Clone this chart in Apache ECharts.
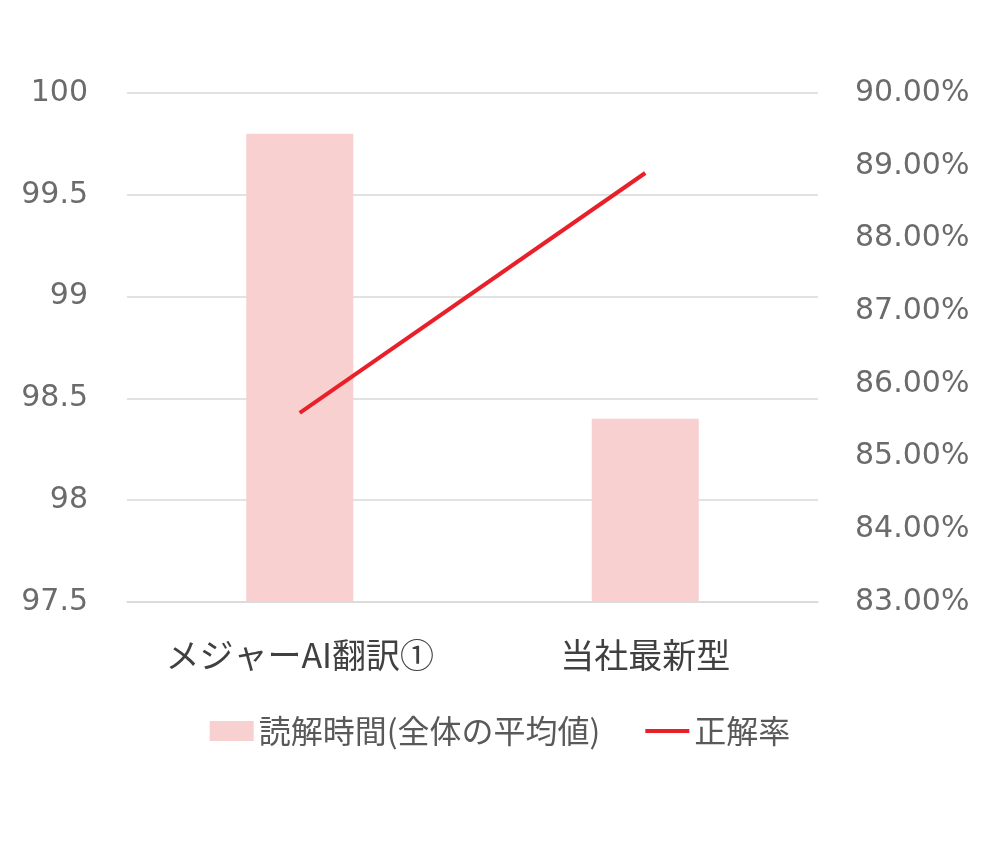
<!DOCTYPE html>
<html>
<head>
<meta charset="utf-8">
<script src="https://cdn.jsdelivr.net/npm/echarts@6/dist/echarts.min.js"></script>
<style>
  html, body { margin:0; padding:0; background:#fff; }
  #main { width:1000px; height:850px; }
</style>
</head>
<body>
<div id="main"></div>
<script>
// 読解時間 / 正解率
var categories = ['メジャーAI翻訳①', '当社最新型'];
var readTime = [99.8, 98.4];
var accuracy = [85.6, 88.9];

var cjkFont = '"Noto Sans CJK JP", "Noto Sans", sans-serif';
var numFont = '"DejaVu Sans", "Noto Sans", sans-serif';
var myChart = echarts.init(document.getElementById('main'));

var option = {
  backgroundColor: '#fff',
  animation: false,
  textStyle: { fontFamily: cjkFont },
  grid: { left: 127, right: 182, top: 93, bottom: 248 },
  legend: {
    top: 710,
    left: 'center',
    itemGap: 45,
    itemWidth: 44,
    itemHeight: 20,
    textStyle: { fontSize: 32, color: '#595959', fontFamily: cjkFont },
    data: [
      { name: '読解時間(全体の平均値)', icon: 'rect' },
      { name: '正解率', icon: 'path://M0,8 L44,8 L44,12 L0,12 Z' }
    ]
  },
  xAxis: [{
    type: 'category',
    data: categories,
    axisLine: { show: true, lineStyle: { color: '#d9d9d9', width: 1.5 } },
    axisTick: { show: false },
    axisLabel: { interval: 0, fontSize: 34, color: '#404040', margin: 36, fontFamily: cjkFont }
  }],
  yAxis: [{
    type: 'value',
    min: 97.5, max: 100, interval: 0.5,
    axisLine: { show: false },
    axisTick: { show: false },
    splitLine: { lineStyle: { color: '#d9d9d9', width: 1.5 } },
    axisLabel: {
      fontSize: 30, color: '#6b6b6b', margin: 39, fontFamily: numFont,
      padding: [0, 0, 10, 0],
      formatter: function (v) { return String(Math.round(v * 10) / 10); }
    }
  }, {
    type: 'value',
    min: 83, max: 90, interval: 1,
    axisLine: { show: false },
    axisTick: { show: false },
    splitLine: { show: false },
    axisLabel: {
      fontSize: 30, color: '#6b6b6b', margin: 37, fontFamily: numFont,
      padding: [0, 0, 10, 0],
      formatter: function (v) { return v.toFixed(2) + '%'; }
    }
  }],
  series: [{
    name: '読解時間(全体の平均値)',
    type: 'bar',
    data: readTime,
    barWidth: 107,
    itemStyle: { color: '#f9d0d0' }
  }, {
    name: '正解率',
    type: 'line',
    yAxisIndex: 1,
    data: accuracy,
    symbol: 'none',
    lineStyle: { color: '#e8202a', width: 4 },
    itemStyle: { color: '#e8202a' }
  }]
};
myChart.setOption(option);
</script>
</body>
</html>
